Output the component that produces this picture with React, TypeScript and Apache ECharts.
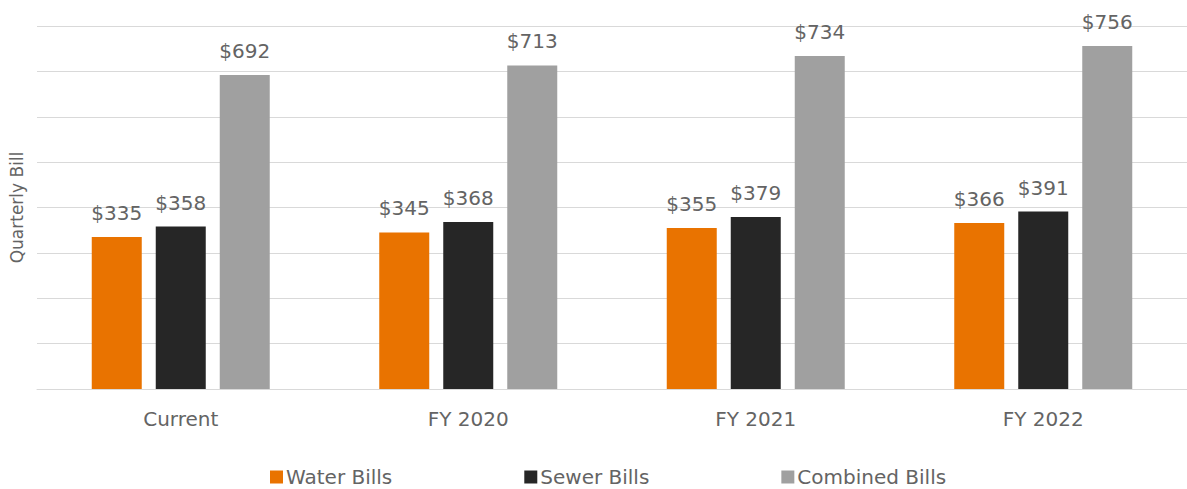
import React, { useEffect, useRef } from "react";
import * as echarts from "echarts";

const categories = ["Current", "FY 2020", "FY 2021", "FY 2022"];
const waterBills = [335, 345, 355, 366];
const sewerBills = [358, 368, 379, 391];
const combinedBills = [692, 713, 734, 756];
const seriesNames = ["Water Bills", "Sewer Bills", "Combined Bills"];
const colors = ["#E97300", "#262626", "#A0A0A0"];

const FONT = "DejaVu Sans";
const TEXT = "#646464";

export default function App() {
  const ref = useRef<HTMLDivElement>(null);
  useEffect(() => {
    if (!ref.current) return;
    const chart = echarts.init(ref.current, undefined, { renderer: "svg" });
    const mkSeries = (name: string, data: number[], color: string) => ({
      name,
      type: "bar",
      data,
      barWidth: 50,
      barGap: "28%",
      itemStyle: { color },
      label: {
        show: true,
        position: "top",
        distance: 14,
        formatter: (p: any) => "$" + p.value,
        color: TEXT,
        fontSize: 20,
        fontFamily: FONT,
      },
    });
    chart.setOption({
      animation: false,
      textStyle: { fontFamily: FONT },
      grid: { left: 37, right: 0, top: 26, bottom: 100, containLabel: false },
      legend: {
        data: seriesNames,
        top: 467,
        left: 270,
        padding: 0,
        itemWidth: 13,
        itemHeight: 13,
        itemGap: 132,
        icon: "rect",
        textStyle: { color: TEXT, fontSize: 20, fontFamily: FONT, padding: [0, 0, 0, -2] },
      },
      xAxis: {
        type: "category",
        data: categories,
        axisLine: { lineStyle: { color: "#D9D9D9" } },
        axisTick: { show: false },
        axisLabel: { color: TEXT, fontSize: 20, fontFamily: FONT, margin: 20 },
      },
      yAxis: {
        type: "value",
        min: 0,
        max: 800,
        interval: 100,
        name: "Quarterly Bill",
        nameLocation: "middle",
        nameGap: 12,
        nameRotate: 90,
        nameTextStyle: { color: TEXT, fontSize: 17, fontFamily: FONT },
        axisLabel: { show: false },
        axisLine: { show: false },
        axisTick: { show: false },
        splitLine: { lineStyle: { color: "#D9D9D9" } },
      },
      series: [
        mkSeries(seriesNames[0], waterBills, colors[0]),
        mkSeries(seriesNames[1], sewerBills, colors[1]),
        mkSeries(seriesNames[2], combinedBills, colors[2]),
      ],
    });
    return () => chart.dispose();
  }, []);
  return <div ref={ref} style={{ width: 1187, height: 489, position: "absolute", left: 0, top: 0 }} />;
}
